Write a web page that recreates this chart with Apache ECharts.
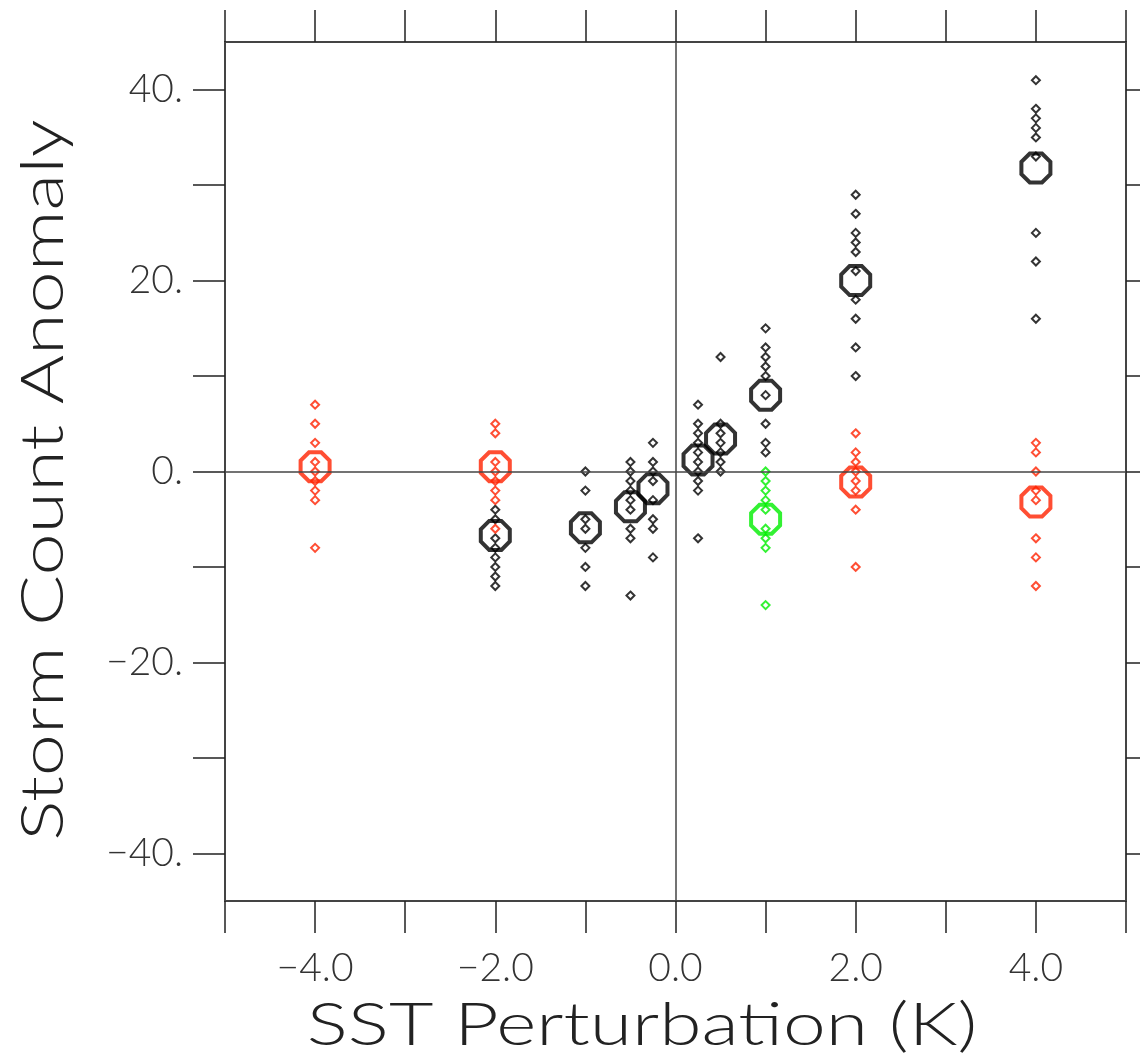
<!DOCTYPE html>
<html>
<head>
<meta charset="utf-8">
<script src="https://cdn.jsdelivr.net/npm/echarts@6/dist/echarts.min.js"></script>
<style>
	html, body { margin: 0; padding: 0; background: #fff; }
	#chart { width: 1140px; height: 1057px; }
</style>
</head>
<body>
<div id="chart"></div>
<script>
// ---------------- data ----------------
// x ticks / y ticks
var xLabelVals = [-4, -2, 0, 2, 4];
var yTickVals = [-40, -30, -20, -10, 0, 10, 20, 30, 40];
var yLabelVals = [-40, -20, 0, 20, 40];

// single runs (small diamonds), one array per SST perturbation
var blackX = [-2, -1, -0.5, -0.25, 0.25, 0.5, 1, 2, 4];
var blackRuns = [
	[-4, -5, -7, -8, -9, -10, -11, -12],
	[0, -2, -5, -6, -8, -10, -12],
	[1, 0, -1, -2, -3, -4, -6, -7, -13],
	[3, 1, 0, -1, -3, -5, -6, -9],
	[7, 5, 4, 3, 2, 1, 0, -1, -2, -7],
	[12, 5, 4, 3, 2, 1, 0],
	[15, 13, 12, 11, 10, 8, 5, 3, 2],
	[29, 27, 25, 24, 23, 21, 18, 16, 13, 10],
	[41, 38, 37, 36, 35, 33, 25, 22, 16]
];
var redX = [-4, -2, 2, 4];
var redRuns = [
	[7, 5, 3, 1, 0, -1, -2, -3, -8],
	[5, 4, 1, 0, -1, -2, -3, -6],
	[4, 2, 1, 0, -1, -2, -4, -10],
	[3, 2, 0, -2, -3, -7, -9, -12]
];
var greenX = [1];
var greenRuns = [
	[0, -1, -2, -3, -4, -6, -7, -8, -14]
];

// ensemble means (big octagons)
var blackMean = [-6.7, -5.9, -3.7, -1.8, 1.2, 3.4, 8, 20, 31.8];
var redMean = [0.5, 0.5, -1.1, -3.2];
var greenMean = [-5];

// ---------------- helpers ----------------
var OCTAGON = 'path://M29,0 L71,0 L100,29 L100,71 L71,100 L29,100 L0,71 L0,29 Z';
var FONT = 'Lato';

function runPoints(xs, runs) {
	var out = [];
	for (var i = 0; i < xs.length; i++) {
		for (var j = 0; j < runs[i].length; j++) {
			out.push([xs[i], runs[i][j]]);
		}
	}
	return out;
}
function meanPoints(xs, ys) {
	return xs.map(function (x, i) { return [x, ys[i]]; });
}
function fmtNum(v, digits) {
	var s = digits ? Math.abs(v).toFixed(digits) : Math.abs(v) + '.';
	return (v < 0 ? '\u2212' : '') + s;
}
function runSeries(data, color) {
	return {
		type: 'scatter',
		data: data,
		symbol: 'diamond',
		symbolSize: 8,
		itemStyle: { color: 'rgba(0,0,0,0)', borderColor: color, borderWidth: 2 },
		emphasis: { disabled: true },
		silent: true,
		z: 3
	};
}
function meanSeries(data, color) {
	return {
		type: 'scatter',
		data: data,
		symbol: OCTAGON,
		symbolSize: 29,
		itemStyle: { color: 'rgba(0,0,0,0)', borderColor: color, borderWidth: 4 },
		emphasis: { disabled: true },
		silent: true,
		z: 4
	};
}

var axisLineStyle = { color: '#444', width: 2 };
var tickStyle = { color: '#222', width: 1.5 };
var labelStyle = { fontFamily: FONT, fontWeight: 300, fontSize: 39, color: '#333' };

// ---------------- chart ----------------
var myChart = echarts.init(document.getElementById('chart'));
var option = {
	animation: false,
	backgroundColor: '#fff',
	grid: { left: 225, right: 14, top: 42, bottom: 156 },
	xAxis: [{
		type: 'value', min: -5, max: 5, interval: 1, position: 'bottom',
		axisLine: { show: true, onZero: false, lineStyle: axisLineStyle },
		axisTick: { show: true, inside: false, length: 32, lineStyle: tickStyle },
		axisLabel: Object.assign({
			margin: 48,
			formatter: function (v) { return xLabelVals.indexOf(v) >= 0 ? fmtNum(v, 1) : ''; }
		}, labelStyle),
		splitLine: { show: false }
	}, {
		type: 'value', min: -5, max: 5, interval: 1, position: 'top',
		axisLine: { show: true, onZero: false, lineStyle: axisLineStyle },
		axisTick: { show: true, inside: false, length: 32, lineStyle: tickStyle },
		axisLabel: { show: false },
		splitLine: { show: false }
	}],
	yAxis: [{
		type: 'value', min: -45, max: 45, position: 'left',
		axisLine: { show: true, onZero: false, lineStyle: axisLineStyle },
		axisTick: { show: true, inside: false, length: 32, customValues: yTickVals, lineStyle: tickStyle },
		axisLabel: Object.assign({
			margin: 42,
			customValues: yLabelVals,
			formatter: function (v) { return fmtNum(v, 0); }
		}, labelStyle),
		splitLine: { show: false }
	}, {
		type: 'value', min: -45, max: 45, position: 'right',
		axisLine: { show: true, onZero: false, lineStyle: axisLineStyle },
		axisTick: { show: true, inside: false, length: 32, customValues: yTickVals, lineStyle: tickStyle },
		axisLabel: { show: false },
		splitLine: { show: false }
	}],
	graphic: [{
		type: 'text', x: 642, y: 1026, scaleX: 1.28,
		style: {
			text: 'SST Perturbation (K)', fontFamily: FONT, fontWeight: 300, fontSize: 60, fill: '#222',
			align: 'center', verticalAlign: 'middle'
		}
	}, {
		type: 'text', x: 44, y: 480, rotation: Math.PI / 2, scaleX: 1.26,
		style: {
			text: 'Storm Count Anomaly', fontFamily: FONT, fontWeight: 300, fontSize: 60, fill: '#222',
			align: 'center', verticalAlign: 'middle'
		}
	}],
	series: [
		Object.assign(runSeries(runPoints(blackX, blackRuns), '#000'), {
			markLine: {
				silent: true, symbol: 'none', label: { show: false },
				lineStyle: { color: '#444', width: 1.5, type: 'solid' },
				data: [{ yAxis: 0 }, { xAxis: 0 }]
			}
		}),
		runSeries(runPoints(redX, redRuns), '#ff2200'),
		runSeries(runPoints(greenX, greenRuns), '#00ee00'),
		meanSeries(meanPoints(blackX, blackMean), '#000'),
		meanSeries(meanPoints(redX, redMean), '#ff2200'),
		meanSeries(meanPoints(greenX, greenMean), '#00ee00')
	]
};
myChart.setOption(option);
</script>
</body>
</html>
